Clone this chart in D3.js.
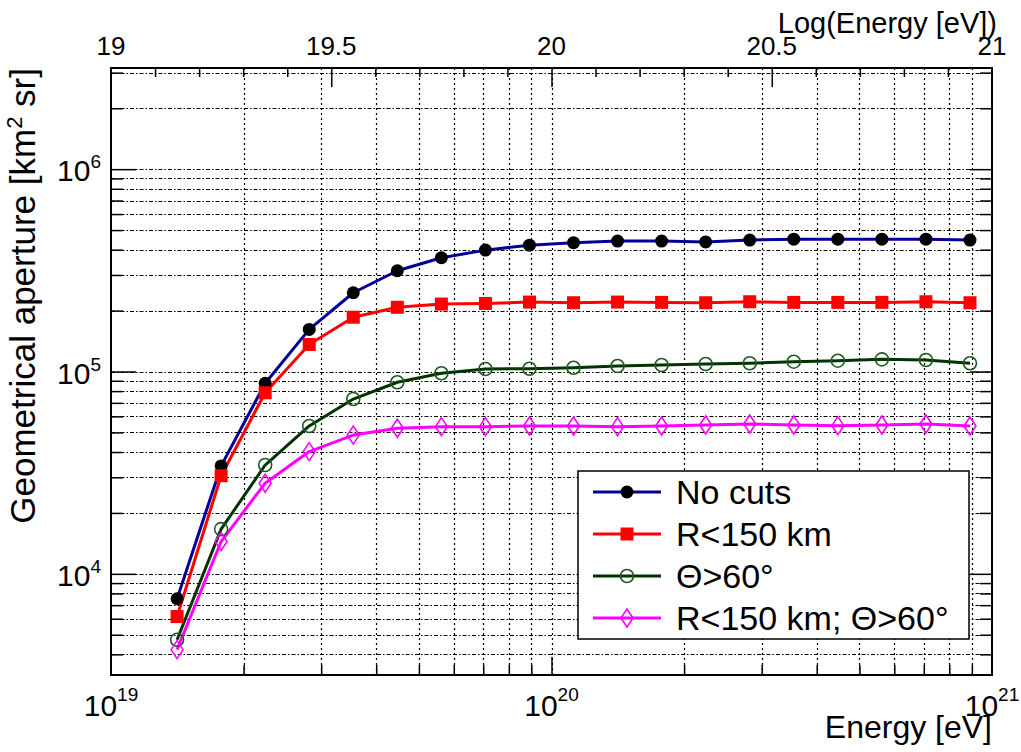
<!DOCTYPE html>
<html><head><meta charset="utf-8">
<script src="https://cdn.jsdelivr.net/npm/d3@7"></script>
<style>
body{margin:0;background:#fff}
svg{display:block}
text{font-family:"Liberation Sans",Arial,Helvetica,sans-serif;fill:#000}
</style>
</head><body>
<svg id="c" width="1021" height="752"></svg>
<script>
// ---- data ----
const logEnergy = [19.15,19.25,19.35,19.45,19.55,19.65,19.75,19.85,19.95,20.05,20.15,20.25,20.35,20.45,20.55,20.65,20.75,20.85,20.95];
const noCuts   = [7530,34150,87500,161500,245000,314800,364800,398000,421000,433000,441000,441000,437000,446000,451000,451000,451000,451000,446000];
const rCut     = [6150,30550,78500,136000,185500,207700,215400,217000,220400,218700,220400,219600,218700,221200,219600,219600,219600,221200,218700];
const thetaCut = [4720,16630,34500,53800,73100,88500,98000,102900,103200,104400,106500,107700,108900,109800,111800,113100,114800,114000,109800];
const bothCuts = [4220,14440,28050,40200,48500,52400,53400,53400,53800,53800,53400,53800,54400,55000,54400,54000,54400,55000,53800];
const seriesNames = ["No cuts","R<150 km","\u0398>60\u00B0","R<150 km; \u0398>60\u00B0"];
const bottomTickExps = [19,20,21];
const leftTickExps = [4,5,6];
const topTickLabels = [19,19.5,20,20.5,21];

const series = [
  {name:seriesNames[0], values:noCuts,   color:"#000099", mcolor:"#000", marker:"circleFilled"},
  {name:seriesNames[1], values:rCut,     color:"#ff0000", mcolor:"#ff0000", marker:"square"},
  {name:seriesNames[2], values:thetaCut, color:"#003300", mcolor:"#1d5a1d", marker:"circleOpen"},
  {name:seriesNames[3], values:bothCuts, color:"#ff00ff", mcolor:"#ff00ff", marker:"diamond"}
];

// ---- layout ----
const L=111, R=992, T=68, B=675;
const svg = d3.select("#c");
const x = d3.scaleLog().domain([1e19,1e21]).range([L,R]);
const xTop = d3.scaleLinear().domain([19,21]).range([L,R]);
const y = d3.scaleLog().domain([Math.pow(10,3.5),Math.pow(10,6.5)]).range([B,T]);

// tick value sets
const xMinor=[], xAllGrid=[];
[1e19,1e20].forEach(d=>{for(let m=2;m<=9;m++){xMinor.push(m*d);} });
xMinor.forEach(v=>xAllGrid.push(v)); xAllGrid.push(1e20);
const yMinor=[], yGrid=[];
[1e3,1e4,1e5,1e6].forEach(d=>{for(let m=1;m<=9;m++){const v=m*d; if(v>=y.domain()[0]&&v<=y.domain()[1]){yGrid.push(v); if(m>1) yMinor.push(v);}}});
const yMajor = leftTickExps.map(e=>Math.pow(10,e));

const px = v=>Math.round(v)+0.5;

// ---- grid ----
const g = svg.append("g");
g.selectAll("line.vg").data(xAllGrid).join("line")
  .attr("x1",d=>px(x(d))).attr("x2",d=>px(x(d))).attr("y1",T).attr("y2",B)
  .attr("stroke","#000").attr("stroke-width",1.2).attr("stroke-dasharray","2,3");
g.selectAll("line.hg").data(yGrid).join("line")
  .attr("x1",L).attr("x2",R).attr("y1",d=>px(y(d))).attr("y2",d=>px(y(d)))
  .attr("stroke","#000").attr("stroke-width",1).attr("stroke-dasharray","4,2,1.5,2");

// ---- axes ticks ----
function styleAxis(sel){ sel.select(".domain").remove(); sel.selectAll(".tick line").attr("stroke","#000").attr("stroke-width",1.5); sel.selectAll(".tick text").remove(); }
// bottom (ticks pointing up)
svg.append("g").attr("transform",`translate(0,${B})`).call(d3.axisTop(x).tickValues(xMinor).tickSize(10).tickFormat("")).call(styleAxis);
svg.append("g").attr("transform",`translate(0,${B})`).call(d3.axisTop(x).tickValues([1e20]).tickSize(18).tickFormat("")).call(styleAxis);
// top (ticks pointing down)
const topMinor = d3.range(19.1,21,0.1).filter(v=>Math.abs(v*2-Math.round(v*2))>1e-6);
svg.append("g").attr("transform",`translate(0,${T})`).call(d3.axisBottom(xTop).tickValues(topMinor).tickSize(9).tickFormat("")).call(styleAxis);
svg.append("g").attr("transform",`translate(0,${T})`).call(d3.axisBottom(xTop).tickValues([19.5,20,20.5]).tickSize(19).tickFormat("")).call(styleAxis);
// left and right
svg.append("g").attr("transform",`translate(${L},0)`).call(d3.axisRight(y).tickValues(yMinor).tickSize(12).tickFormat("")).call(styleAxis);
svg.append("g").attr("transform",`translate(${L},0)`).call(d3.axisRight(y).tickValues(yMajor).tickSize(25).tickFormat("")).call(styleAxis);
svg.append("g").attr("transform",`translate(${R},0)`).call(d3.axisLeft(y).tickValues(yMinor).tickSize(12).tickFormat("")).call(styleAxis);
svg.append("g").attr("transform",`translate(${R},0)`).call(d3.axisLeft(y).tickValues(yMajor).tickSize(22).tickFormat("")).call(styleAxis);

// ---- tick labels ----
const bl = svg.append("g");
bottomTickExps.forEach(e=>{
  const t = bl.append("text").attr("x",x(Math.pow(10,e))).attr("y",716).attr("text-anchor","middle").attr("font-size",30);
  t.append("tspan").text("10");
  t.append("tspan").attr("dy",-15).attr("font-size",19).text(e);
});
leftTickExps.forEach(e=>{
  const t = bl.append("text").attr("x",101).attr("y",y(Math.pow(10,e))+12).attr("text-anchor","end").attr("font-size",30);
  t.append("tspan").text("10");
  t.append("tspan").attr("dy",-13).attr("font-size",19).text(e);
});
topTickLabels.forEach(v=>{
  bl.append("text").attr("x",xTop(v)).attr("y",55).attr("text-anchor","middle").attr("font-size",26).text(v);
});

// axis titles
svg.append("text").attr("x",992).attr("y",738).attr("text-anchor","end").attr("font-size",32).text("Energy [eV]");
svg.append("text").attr("x",997).attr("y",33).attr("text-anchor","end").attr("font-size",29).text("Log(Energy [eV])");
const yt = svg.append("text").attr("transform","translate(35,68) rotate(-90)").attr("text-anchor","end").attr("font-size",35);
yt.append("tspan").text("Geometrical aperture [km");
yt.append("tspan").attr("dy",-13).attr("font-size",22).text("2");
yt.append("tspan").attr("dy",13).text(" sr]");

// ---- series ----
const line = d3.line().x((d,i)=>x(Math.pow(10,logEnergy[i]))).y(d=>y(d));
function drawMarker(sel, s, cx, cy){
  if(s.marker==="circleFilled") sel.append("circle").attr("cx",cx).attr("cy",cy).attr("r",6.5).attr("fill",s.mcolor);
  else if(s.marker==="square") sel.append("rect").attr("x",cx-6.5).attr("y",cy-6.5).attr("width",13).attr("height",13).attr("fill",s.mcolor);
  else if(s.marker==="circleOpen") sel.append("circle").attr("cx",cx).attr("cy",cy).attr("r",6.5).attr("fill","none").attr("stroke",s.mcolor).attr("stroke-width",1.6);
  else if(s.marker==="diamond") sel.append("path").attr("d",`M${cx},${cy-9}L${cx+6},${cy}L${cx},${cy+9}L${cx-6},${cy}Z`).attr("fill","none").attr("stroke",s.mcolor).attr("stroke-width",1.6);
}
const sg = svg.append("g");
series.forEach(s=>{
  sg.append("path").datum(s.values).attr("d",line).attr("fill","none").attr("stroke",s.color).attr("stroke-width",3).attr("stroke-linejoin","round");
});
series.forEach(s=>{
  const mg = sg.append("g");
  s.values.forEach((v,i)=>drawMarker(mg,s,x(Math.pow(10,logEnergy[i])),y(v)));
});

// ---- frame ----
svg.append("rect").attr("x",L).attr("y",T).attr("width",R-L).attr("height",B-T).attr("fill","none").attr("stroke","#000").attr("stroke-width",2);

// ---- legend ----
const lg = svg.append("g");
lg.append("rect").attr("x",578).attr("y",471).attr("width",391).attr("height",168).attr("fill","#fff").attr("stroke","#000").attr("stroke-width",1.5);
series.forEach((s,i)=>{
  const cy = 492 + i*42;
  lg.append("line").attr("x1",593).attr("x2",661).attr("y1",cy).attr("y2",cy).attr("stroke",s.color).attr("stroke-width",3);
  drawMarker(lg,s,627,cy);
  lg.append("text").attr("x",676).attr("y",cy+12).attr("font-size",34).text(s.name);
});
</script>
</body></html>
